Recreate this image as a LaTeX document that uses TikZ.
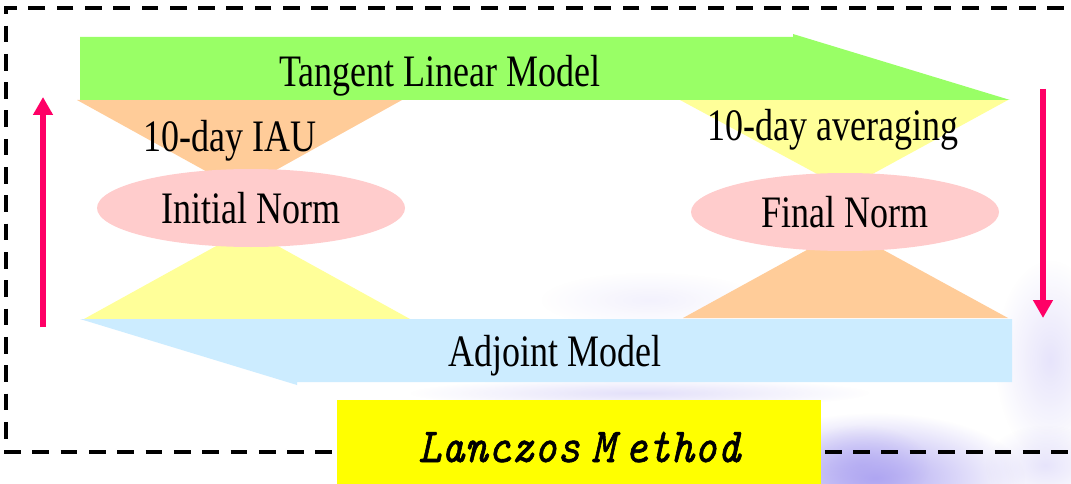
\documentclass[tikz,border=0pt]{standalone}
\usepackage{fontspec}
\setmainfont{Liberation Serif}
\newfontfamily\labelfont[FakeStretch=0.80]{Liberation Serif}
\newfontfamily\methodfont[Extension=.otf, FakeStretch=0.90, FakeBold=1.2,
  UprightFont=lmmono10-regular, ItalicFont=lmmono10-italic]{lmmono10-regular}
\usetikzlibrary{arrows.meta,shapes.geometric,fadings}

\definecolor{tlmgreen}{HTML}{99FF66}
\definecolor{adjblue}{HTML}{CCECFF}
\definecolor{wedgeorange}{HTML}{FFCC99}
\definecolor{wedgeyellow}{HTML}{FFFF99}
\definecolor{normpink}{HTML}{FFCCCC}
\definecolor{flowred}{HTML}{FF0066}
\definecolor{methodyellow}{HTML}{FFFF00}
\definecolor{haze}{HTML}{AFA6F2}

\tikzfading[name=softblob, inner color=transparent!0, outer color=transparent!100]

\tikzset{
  labeltext/.style={font=\labelfont\fontsize{45}{45}\selectfont, inner sep=0pt},
  normshape/.style={ellipse, fill=normpink, minimum width=308pt, minimum height=78pt,
                    inner sep=0pt, font=\labelfont\fontsize{45}{45}\selectfont},
  flowarrow/.style={draw=flowred, line width=6pt,
                    -{Triangle[width=19pt,length=18pt]}},
  frame/.style={draw=black, line width=4.5pt, dash pattern=on 16.7pt off 11.6pt, dash phase=2.1pt},
  hazeblob/.style={fill=haze, path fading=softblob},
}

\begin{document}
\begin{tikzpicture}[x=1pt,y=-1pt]
\useasboundingbox (0,0) rectangle (1071,484);
\fill[white] (0,0) rectangle (1071,484);

% soft lavender background haze
\fill[hazeblob, opacity=1] (875,478) ellipse [x radius=150pt, y radius=65pt];
\fill[hazeblob, opacity=0.6] (860,465) ellipse [x radius=70pt, y radius=40pt];
\fill[hazeblob, opacity=0.3] (1050,360) ellipse [x radius=55pt, y radius=100pt];
\fill[hazeblob, opacity=0.3] (1045,465) ellipse [x radius=60pt, y radius=40pt];
\fill[hazeblob, opacity=0.35] (640,393) ellipse [x radius=230pt, y radius=15pt];
\fill[hazeblob, opacity=0.15] (650,300) ellipse [x radius=110pt, y radius=28pt];

% dashed frame, running off the right edge
\draw[frame] (1090,8) -- (6,8) -- (6,452) -- (1090,452);

% hourglass wedges behind the two norms
\fill[wedgeorange] (77,100) -- (402,100) -- (240,190) -- cycle;
\fill[wedgeyellow] (84,319) -- (410,319) -- (247,229) -- cycle;
\fill[wedgeyellow] (680,100) -- (1008,100) -- (845,189) -- cycle;
\fill[wedgeorange] (683,318) -- (1008,318) -- (845,229) -- cycle;

% forward model: half arrow pointing right
\fill[tlmgreen] (80,37) -- (793,37) -- (793,34) -- (1010,100) -- (80,100) -- cycle;
% adjoint model: half arrow pointing left
\fill[adjblue] (80,319) -- (1012,319) -- (1012,382) -- (297,382) -- (297,385) -- cycle;

\node[labeltext, anchor=base] (tlm) at (440,87) {Tangent Linear Model};
\node[labeltext, anchor=base] (adj) at (555,366) {Adjoint Model};
\node[labeltext, anchor=base] (iau) at (230,152) {10-day IAU};
\node[labeltext, anchor=base] (avg) at (833,140.5) {10-day averaging};

\node[normshape] (init) at (251,208) {Initial Norm};
\node[normshape] (final) at (845,212) {Final Norm};

% direction of the iteration
\coordinate (upfrom) at (43,327);
\coordinate (upto) at (43,97);
\coordinate (downfrom) at (1043,89);
\coordinate (downto) at (1043,318);
\draw[flowarrow] (upfrom) -- (upto);
\draw[flowarrow] (downfrom) -- (downto);

% method box
\node[fill=methodyellow, minimum width=484pt, minimum height=84pt, inner sep=0pt,
      anchor=north west] (lanczos) at (337,400) {};
\node[font=\methodfont\itshape\fontsize{49}{49}\selectfont, inner sep=0pt, anchor=base west]
  (lanczostext) at (418,462) {Lanczos\kern-12pt\ M\kern10pt ethod};
\end{tikzpicture}
\end{document}
